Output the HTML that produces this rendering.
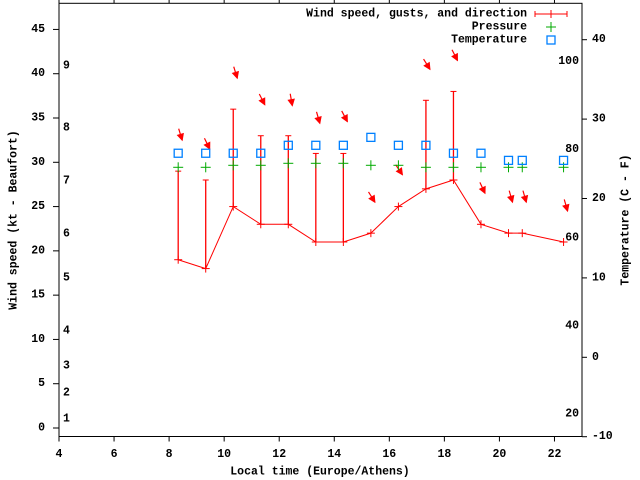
<!DOCTYPE html>
<html><head><meta charset="utf-8"><style>
body{margin:0;background:#fff}
svg{display:block}
text{font-family:"Liberation Mono",monospace;font-weight:bold;font-size:11.5px;fill:#000}
</style></head><body>
<svg id="chart" width="640" height="480" xmlns="http://www.w3.org/2000/svg"></svg>
<script>
const times=[8.33,9.33,10.33,11.33,12.33,13.33,14.33,15.33,16.33,17.33,18.33,19.33,20.33,20.83,22.33];
const windSpeed=[19,18,25,23,23,21,21,22,25,27,28,23,22,22,21];
const gusts=[29,28,36,33,33,31,31,null,null,37,38,null,null,null,null];
const windDir=[343,334,343,333,350,344,332,328,326,328,333,335,344,344,344];
const arrowLevel=[32.5,31.5,39.5,36.5,36.4,34.4,34.6,25.5,28.6,40.5,41.5,26.5,25.5,25.5,24.5];
const pressure=[1012,1012,1013,1013,1014,1014,1014,1013,1013,1012,1012,1012,1012,1012,1012];
const temperature=[25.7,25.7,25.7,25.7,26.7,26.7,26.7,27.7,26.7,26.7,25.7,25.7,24.8,24.8,24.8];
const xTicks=[4,6,8,10,12,14,16,18,20,22];
const yTicks=[0,5,10,15,20,25,30,35,40,45];
const y2Ticks=[-10,0,10,20,30,40];
const fTicks=[20,40,60,80,100];
const beaufort=[[1,419],[2,393],[3,366],[4,331],[5,278],[6,234],[7,181],[8,128],[9,66]];

const L=59,R=582,T=3.3,B=436.5;
const X=v=>L+(v-4)*(R-L)/19;
const Y=v=>428-8.857*v;
const Y2=v=>357.3-7.94*v;
const YP=p=>167.3-(p-1012)*2;
const svg=document.getElementById('chart');
const NS='http://www.w3.org/2000/svg';
function mk(tag,attrs,parent){const e=document.createElementNS(NS,tag);for(const k in attrs)e.setAttribute(k,attrs[k]);(parent||svg).appendChild(e);return e;}
function txt(s,x,y,anchor){const t=mk('text',{x:x,y:y,'text-anchor':anchor||'middle','dominant-baseline':'central'});t.textContent=s;return t;}

let fr=mk('rect',{x:L,y:T,width:R-L,height:B-T,fill:'none',stroke:'#000','stroke-width':1});



xTicks.forEach(v=>{
  const x=X(v);
  mk('line',{x1:x,y1:B,x2:x,y2:B+5,stroke:'#000'});
  mk('line',{x1:x,y1:T,x2:x,y2:T-4,stroke:'#000'});
  const t=txt(String(v),x,454.5);
  
  
});
yTicks.forEach(v=>{
  const y=Y(v);
  mk('line',{x1:L,y1:y,x2:L-6,y2:y,stroke:'#000'});
  const t=txt(String(v),45,y,'end');
  
  
});
y2Ticks.forEach(v=>{
  const y=Y2(v);
  mk('line',{x1:R,y1:y,x2:R+5,y2:y,stroke:'#000'});
  const t=txt(String(v),592,y,'start');
  
  
});
fTicks.forEach(f=>{
  const c=(f-32)*5/9;
  const t=txt(String(f),579,Y2(c)+4,'end');
  
  
});
beaufort.forEach(b=>{
  const t=txt(String(b[0]),63,b[1],'start');
  
  
});

let xt=txt('Local time (Europe/Athens)',320,472);


let yt=txt('Wind speed (kt - Beaufort)',0,0);
yt.setAttribute('transform','translate(14,220) rotate(-90)');


let y2t=txt('Temperature (C - F)',0,0);
y2t.setAttribute('transform','translate(626,220) rotate(-90)');



const red='#ff0000',green='#00aa00',blue='#0080ff';
function plus(x,y,c,s){mk('line',{x1:x-s,y1:y,x2:x+s,y2:y,stroke:c});mk('line',{x1:x,y1:y-s,x2:x,y2:y+s,stroke:c});}

let pl=mk('polyline',{points:times.map((t,i)=>X(t)+','+Y(windSpeed[i])).join(' '),fill:'none',stroke:red,'stroke-width':1});


times.forEach((t,i)=>{
  const x=X(t);
  plus(x,Y(windSpeed[i]),red,4);
  if(gusts[i]!=null){
    const g=mk('line',{x1:x,y1:Y(windSpeed[i]),x2:x,y2:Y(gusts[i]),stroke:red,'stroke-width':1.3});
    
    
    mk('line',{x1:x-3,y1:Y(gusts[i]),x2:x+3,y2:Y(gusts[i]),stroke:red});
  }
  const a=(windDir[i]+180)*Math.PI/180;
  const dx=Math.sin(a),dy=-Math.cos(a);
  const hx=x+4,hy=Y(arrowLevel[i]);
  const tx=hx-dx*12,ty=hy-dy*12;
  const g=mk('g',{});
  
  
  mk('line',{x1:tx,y1:ty,x2:hx,y2:hy,stroke:red,'stroke-width':1.2},g);
  const px=-dy,py=dx;
  mk('polygon',{points:`${hx},${hy} ${hx-dx*6+px*3},${hy-dy*6+py*3} ${hx-dx*6-px*3},${hy-dy*6-py*3}`,fill:red,stroke:red},g);
  const p=mk('g',{});
  
  
  mk('line',{x1:x-5,y1:YP(pressure[i]),x2:x+5,y2:YP(pressure[i]),stroke:green},p);
  mk('line',{x1:x,y1:YP(pressure[i])-5,x2:x,y2:YP(pressure[i])+5,stroke:green},p);
  const s=mk('rect',{x:x-4,y:Y2(temperature[i])-4,width:8,height:8,fill:'none',stroke:blue,'stroke-width':1.3});
  
  
});

const lg=mk('g',{});


let l1=txt('Wind speed, gusts, and direction',527,14,'end');lg.appendChild(l1);

mk('line',{x1:535,y1:14,x2:567,y2:14,stroke:red},lg);
mk('line',{x1:535,y1:11,x2:535,y2:17,stroke:red},lg);
mk('line',{x1:567,y1:11,x2:567,y2:17,stroke:red},lg);
mk('line',{x1:551,y1:10,x2:551,y2:18,stroke:red},lg);
let l2=txt('Pressure',527,27,'end');lg.appendChild(l2);

mk('line',{x1:546,y1:27,x2:556,y2:27,stroke:green},lg);
mk('line',{x1:551,y1:22,x2:551,y2:32,stroke:green},lg);
let l3=txt('Temperature',527,40,'end');lg.appendChild(l3);

mk('rect',{x:547,y:36,width:8,height:8,fill:'none',stroke:blue,'stroke-width':1.3},lg);
</script>
</body></html>
